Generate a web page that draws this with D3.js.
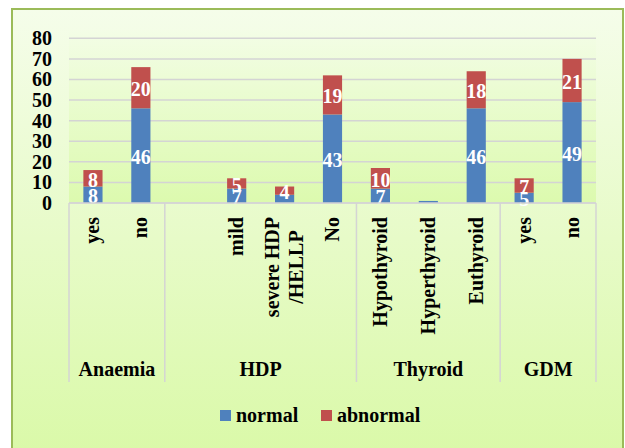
<!DOCTYPE html>
<html>
<head>
<meta charset="utf-8">
<script src="https://cdn.jsdelivr.net/npm/d3@7"></script>
<style>
  body { margin: 0; background: #ffffff; }
  text { font-family: "Liberation Serif", "Times New Roman", serif; font-weight: bold; }
</style>
</head>
<body>
<div id="plot"></div>
<script>
// chart data
const categories = ["yes", "no", "", "mild", "severe HDP\n/HELLP", "No", "Hypothyroid", "Hyperthyroid", "Euthyroid", "yes", "no"];
const groupNames = ["Anaemia", "HDP", "Thyroid", "GDM"];
const groupSizes = [2, 4, 3, 2];
const normal = [8, 46, 0, 7, 4, 43, 7, 1, 46, 5, 49];
const abnormal = [8, 20, 0, 5, 4, 19, 10, 0, 18, 7, 21];
const seriesNames = ["normal", "abnormal"];
const yTicks = [0, 10, 20, 30, 40, 50, 60, 70, 80];

const width = 625;
const height = 448;

// plot area
const plotLeft = 69, plotRight = 596, plotTop = 38.3, plotBottom = 203;

const colors = { normal: "#4f81bd", abnormal: "#c0504d" };
// smallest value that still gets a data label, per series
const labelMin = { normal: 5, abnormal: 1 };

const svg = d3.select("div#plot")
    .append("svg")
    .attr("width", width)
    .attr("height", height);

const defs = svg.append("defs");
const bg = defs.append("linearGradient").attr("id", "bg").attr("x1", 0).attr("y1", 0).attr("x2", 0).attr("y2", 1);
bg.append("stop").attr("offset", "0%").attr("stop-color", "#f5fdea");
bg.append("stop").attr("offset", "100%").attr("stop-color", "#d9f9a6");
const pg = defs.append("linearGradient").attr("id", "pg").attr("x1", 0).attr("y1", 0).attr("x2", 0).attr("y2", 1);
pg.append("stop").attr("offset", "0%").attr("stop-color", "#f3fde6");
pg.append("stop").attr("offset", "100%").attr("stop-color", "#dcfaae");

// chart area with green frame
svg.append("rect")
    .attr("x", 12).attr("y", 9)
    .attr("width", 611).attr("height", 460)
    .attr("fill", "url(#bg)")
    .attr("stroke", "#9bbb59")
    .attr("stroke-width", 2);

svg.append("rect")
    .attr("x", plotLeft).attr("y", plotTop - 8)
    .attr("width", plotRight - plotLeft).attr("height", plotBottom - plotTop + 8)
    .attr("fill", "url(#pg)");

// scales
const x = d3.scaleBand()
    .domain(d3.range(categories.length))
    .range([plotLeft, plotRight])
    .paddingInner(0.6)
    .paddingOuter(0.3);

const y = d3.scaleLinear()
    .domain([0, 80])
    .range([plotBottom, plotTop]);

// gridlines
svg.append("g")
    .selectAll("line")
    .data(yTicks)
    .enter()
    .append("line")
    .attr("x1", plotLeft).attr("x2", plotRight)
    .attr("y1", d => y(d)).attr("y2", d => y(d))
    .style("stroke", "#d4d4d4")
    .style("stroke-width", 1.5);

// y axis
const yAxis = svg.append("g")
    .attr("transform", "translate(52,0)")
    .call(d3.axisLeft(y).tickValues(yTicks).tickSize(0).tickPadding(0));
yAxis.select(".domain").remove();
yAxis.selectAll("text")
    .style("font-family", "Liberation Serif, Times New Roman, serif")
    .style("font-weight", "bold")
    .style("font-size", "20px")
    .attr("fill", "#000");

// stacked bars
const table = categories.map((c, i) => ({ i: i, normal: normal[i], abnormal: abnormal[i] }));
const stacked = d3.stack().keys(seriesNames)(table);

const layers = svg.append("g")
    .selectAll("g")
    .data(stacked)
    .enter()
    .append("g")
    .attr("fill", d => colors[d.key]);

layers.selectAll("rect")
    .data(d => d)
    .enter()
    .append("rect")
    .attr("x", d => x(d.data.i))
    .attr("width", x.bandwidth())
    .attr("y", d => y(d[1]))
    .attr("height", d => y(d[0]) - y(d[1]));

// data labels
stacked.forEach(function(layer) {
    svg.append("g")
        .selectAll("text")
        .data(layer.filter(d => d.data[layer.key] >= labelMin[layer.key]))
        .enter()
        .append("text")
        .attr("x", d => x(d.data.i) + x.bandwidth() / 2)
        .attr("y", d => (y(d[0]) + y(d[1])) / 2 + 8.5)
        .attr("text-anchor", "middle")
        .style("font-size", "20px")
        .attr("fill", "#fff")
        .text(d => d.data[layer.key]);
});

// category axis line and group dividers
svg.append("line")
    .attr("x1", plotLeft).attr("x2", plotRight)
    .attr("y1", plotBottom).attr("y2", plotBottom)
    .style("stroke", "#d4d4d4")
    .style("stroke-width", 1.5);

const groupStarts = groupSizes.map((n, k) => d3.sum(groupSizes.slice(0, k)));
const step = x.step();
const dividers = groupStarts.map(s => plotLeft + s * step).concat([plotRight]);

svg.append("g")
    .selectAll("line")
    .data(dividers)
    .enter()
    .append("line")
    .attr("x1", d => d).attr("x2", d => d)
    .attr("y1", plotBottom).attr("y2", 382)
    .style("stroke", "#d4d4d4")
    .style("stroke-width", 1.5);

// rotated category labels
const labelTop = 217;
categories.forEach(function(c, i) {
    if (!c) return;
    const lines = c.split("\n");
    const cx = x(i) + x.bandwidth() / 2;
    const g = svg.append("g");
    const texts = lines.map(function(line) {
        return g.append("text")
            .attr("text-anchor", "middle")
            .style("font-size", "20px")
            .attr("fill", "#000")
            .text(line);
    });
    const maxLen = d3.max(texts, t => t.node().getComputedTextLength());
    texts.forEach(function(t, j) {
        const bx = cx + 6.5 + (j - (lines.length - 1) / 2) * 24;
        const by = labelTop + maxLen / 2;
        t.attr("transform", "translate(" + bx + "," + by + ") rotate(-90)");
    });
});

// group labels
svg.append("g")
    .selectAll("text")
    .data(groupNames)
    .enter()
    .append("text")
    .attr("x", (d, k) => plotLeft + (groupStarts[k] + groupSizes[k] / 2) * step)
    .attr("y", 376)
    .attr("text-anchor", "middle")
    .style("font-size", "20px")
    .attr("fill", "#000")
    .text(d => d);

// legend
const legendX = [220, 321];
const legend = svg.append("g")
    .selectAll("g")
    .data(seriesNames)
    .enter()
    .append("g")
    .attr("transform", (d, k) => "translate(" + legendX[k] + ",410)");

legend.append("rect")
    .attr("width", 11).attr("height", 11)
    .attr("fill", d => colors[d]);

legend.append("text")
    .attr("x", 16).attr("y", 11.5)
    .style("font-size", "20px")
    .attr("fill", "#000")
    .text(d => d);
</script>
</body>
</html>
